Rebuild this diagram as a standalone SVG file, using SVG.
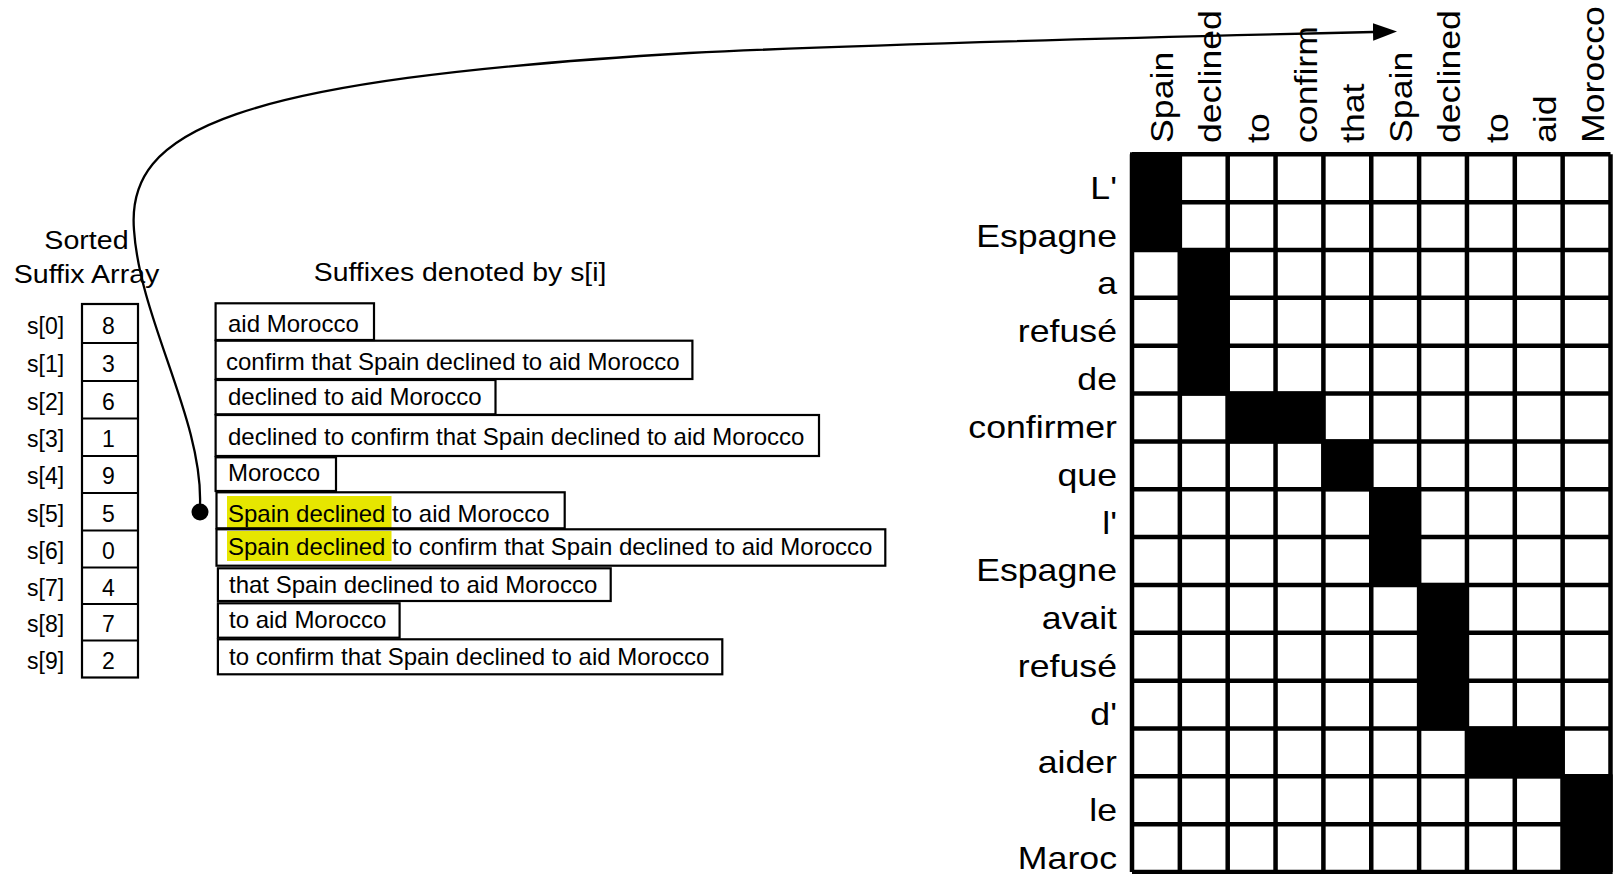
<svg xmlns="http://www.w3.org/2000/svg" width="1615" height="874" viewBox="0 0 1615 874">
<style>
text{font-family:"Liberation Sans",Arial,sans-serif;fill:#000}
.box{fill:none;stroke:#000;stroke-width:2.2}
.sfx{font-size:24px}
.idx{font-size:23px}
.big{font-size:30.5px}
.hl{fill:#e6e600}
.blk{fill:#000}
.grid{fill:none;stroke:#000;stroke-width:4.5}
.conn{fill:none;stroke:#000;stroke-width:2.3}
</style>
<defs>
<marker id="arrow" markerUnits="userSpaceOnUse" markerWidth="26" markerHeight="20" refX="0" refY="8.7" orient="auto">
<path d="M0,0 L24,8.7 L0,17.4 Z" fill="#000"/>
</marker>
</defs>
<rect width="1615" height="874" fill="#fff"/>

<g id="array-title">
<text transform="translate(86.5,249) scale(1.1,1)" font-size="26" text-anchor="middle">Sorted</text>
<text transform="translate(86.5,283) scale(1.1,1)" font-size="26" text-anchor="middle">Suffix Array</text>
</g>

<g id="suffix-array">
<rect class="box" x="82" y="304" width="56" height="373.5"/>
<path class="box" d="M82,343H138M82,381H138M82,418.5H138M82,456H138M82,493H138M82,530.5H138M82,567.5H138M82,604H138M82,640.5H138"/>
<g class="idx">
<text x="27" y="333.5">s[0]</text>
<text x="27" y="371.8">s[1]</text>
<text x="27" y="409.5">s[2]</text>
<text x="27" y="447">s[3]</text>
<text x="27" y="484.3">s[4]</text>
<text x="27" y="521.5">s[5]</text>
<text x="27" y="558.8">s[6]</text>
<text x="27" y="595.5">s[7]</text>
<text x="27" y="632">s[8]</text>
<text x="27" y="668.8">s[9]</text>
</g>
<g class="idx" text-anchor="middle">
<text x="108.5" y="333.5">8</text>
<text x="108.5" y="371.8">3</text>
<text x="108.5" y="409.5">6</text>
<text x="108.5" y="447">1</text>
<text x="108.5" y="484.3">9</text>
<text x="108.5" y="521.5">5</text>
<text x="108.5" y="558.8">0</text>
<text x="108.5" y="595.5">4</text>
<text x="108.5" y="632">7</text>
<text x="108.5" y="668.8">2</text>
</g>
</g>

<g id="suffixes-title">
<text transform="translate(313.8,280.7) scale(1.07,1)" font-size="26.5">Suffixes denoted by s[i]</text>
</g>

<g id="suffixes">
<rect class="hl" x="227" y="496" width="164.5" height="32.3"/>
<rect class="hl" x="227" y="531" width="164.5" height="30"/>
<rect class="box" x="215.6" y="303.3" width="158.4" height="36.7"/>
<rect class="box" x="215.6" y="340.7" width="476.8" height="38.3"/>
<rect class="box" x="215.6" y="380" width="279.9" height="34.3"/>
<rect class="box" x="215.6" y="415" width="603.4" height="41"/>
<rect class="box" x="215.6" y="457.3" width="120.4" height="33.7"/>
<rect class="box" x="216.5" y="492.3" width="348.2" height="36"/>
<rect class="box" x="216.5" y="529.3" width="668.8" height="36.4"/>
<rect class="box" x="217.9" y="568.3" width="392.8" height="32.7"/>
<rect class="box" x="217.9" y="603.3" width="181.7" height="34.4"/>
<rect class="box" x="217.9" y="639.3" width="504.4" height="35"/>
<g class="sfx">
<text x="228" y="331.7">aid Morocco</text>
<text x="226" y="370">confirm that Spain declined to aid Morocco</text>
<text x="228" y="405">declined to aid Morocco</text>
<text x="228" y="445">declined to confirm that Spain declined to aid Morocco</text>
<text x="228" y="481">Morocco</text>
<text x="228" y="521.5">Spain declined to aid Morocco</text>
<text x="228" y="555">Spain declined to confirm that Spain declined to aid Morocco</text>
<text x="229" y="592.7">that Spain declined to aid Morocco</text>
<text x="229" y="628">to aid Morocco</text>
<text x="229" y="665">to confirm that Spain declined to aid Morocco</text>
</g>
</g>

<g id="english-words" class="big">
<text transform="translate(1173,143) rotate(-90) scale(1.17,1)">Spain</text>
<text transform="translate(1220.85,143) rotate(-90) scale(1.17,1)">declined</text>
<text transform="translate(1268.7,143) rotate(-90) scale(1.17,1)">to</text>
<text transform="translate(1316.55,143) rotate(-90) scale(1.17,1)">confirm</text>
<text transform="translate(1364.4,143) rotate(-90) scale(1.17,1)">that</text>
<text transform="translate(1412.25,143) rotate(-90) scale(1.17,1)">Spain</text>
<text transform="translate(1460.1,143) rotate(-90) scale(1.17,1)">declined</text>
<text transform="translate(1507.95,143) rotate(-90) scale(1.17,1)">to</text>
<text transform="translate(1555.8,143) rotate(-90) scale(1.17,1)">aid</text>
<text transform="translate(1603.65,143) rotate(-90) scale(1.17,1)">Morocco</text>
</g>

<g id="french-words" class="big" text-anchor="end">
<text transform="translate(1117,198.6) scale(1.17,1)">L'</text>
<text transform="translate(1117,246.5) scale(1.17,1)">Espagne</text>
<text transform="translate(1117,294.4) scale(1.17,1)">a</text>
<text transform="translate(1117,342.2) scale(1.17,1)">refusé</text>
<text transform="translate(1117,390) scale(1.17,1)">de</text>
<text transform="translate(1117,437.9) scale(1.17,1)">confirmer</text>
<text transform="translate(1117,485.7) scale(1.17,1)">que</text>
<text transform="translate(1117,533.6) scale(1.17,1)">l'</text>
<text transform="translate(1117,581.4) scale(1.17,1)">Espagne</text>
<text transform="translate(1117,629.3) scale(1.17,1)">avait</text>
<text transform="translate(1117,677.1) scale(1.17,1)">refusé</text>
<text transform="translate(1117,725) scale(1.17,1)">d'</text>
<text transform="translate(1117,772.8) scale(1.17,1)">aider</text>
<text transform="translate(1117,820.7) scale(1.17,1)">le</text>
<text transform="translate(1117,868.5) scale(1.17,1)">Maroc</text>
</g>

<g id="alignment-matrix">
<rect class="blk" x="1130" y="152.3" width="51.85" height="99.7"/>
<rect class="blk" x="1177.85" y="248" width="51.85" height="147.55"/>
<rect class="blk" x="1225.7" y="391.55" width="99.7" height="51.85"/>
<rect class="blk" x="1321.4" y="439.4" width="51.85" height="51.85"/>
<rect class="blk" x="1369.25" y="487.25" width="51.85" height="99.7"/>
<rect class="blk" x="1417.1" y="582.95" width="51.85" height="147.55"/>
<rect class="blk" x="1464.95" y="726.5" width="99.7" height="51.85"/>
<rect class="blk" x="1560.65" y="774.35" width="52" height="100"/>
<path class="grid" d="M1132,154.3V872.05M1179.85,154.3V872.05M1227.7,154.3V872.05M1275.55,154.3V872.05M1323.4,154.3V872.05M1371.25,154.3V872.05M1419.1,154.3V872.05M1466.95,154.3V872.05M1514.8,154.3V872.05M1562.65,154.3V872.05M1610.5,154.3V872.05M1132,154.3H1610.5M1132,202.15H1610.5M1132,250H1610.5M1132,297.85H1610.5M1132,345.7H1610.5M1132,393.55H1610.5M1132,441.4H1610.5M1132,489.25H1610.5M1132,537.1H1610.5M1132,584.95H1610.5M1132,632.8H1610.5M1132,680.65H1610.5M1132,728.5H1610.5M1132,776.35H1610.5M1132,824.2H1610.5M1132,872.05H1610.5"/>
</g>

<g id="connectors">
<path class="conn" d="M200,505 C203,420 140,320 134,230 C126,130 230,80 689,53 C870,44 1200,36 1373,32" marker-end="url(#arrow)"/>
<circle cx="200" cy="512" r="8.5" fill="#000"/>
</g>
</svg>
